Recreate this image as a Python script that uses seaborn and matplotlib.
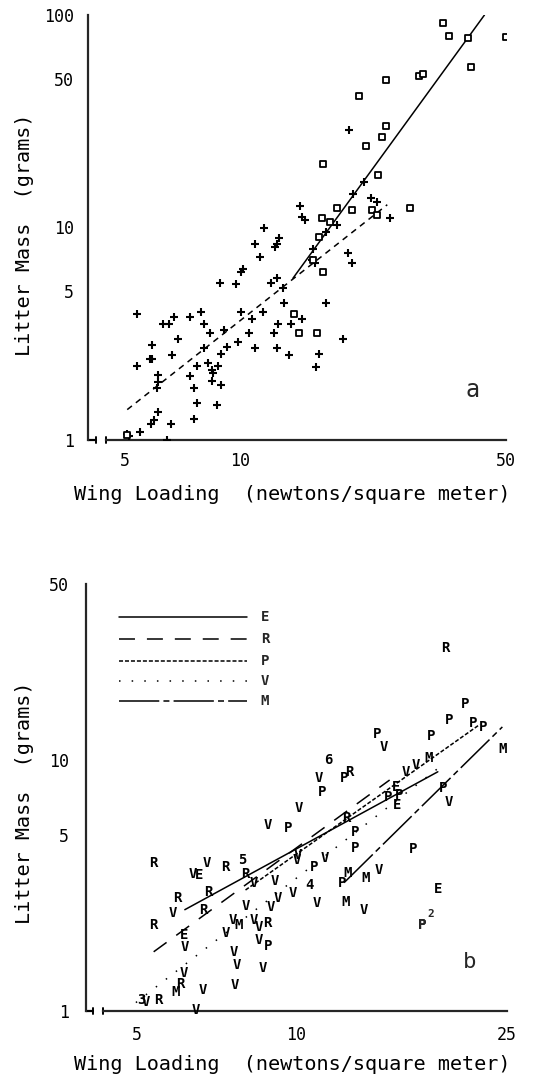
import numpy as np
import pandas as pd
import matplotlib
matplotlib.use("Agg")
import matplotlib.pyplot as plt
import seaborn as sns
from matplotlib.ticker import FixedLocator, FixedFormatter, NullLocator

# ---------------- data: panel a ----------------
plus_x = [8.86, 9.76, 10.1, 12.1, 12.5, 13.0, 13.1,
          5.39, 6.31, 6.54, 6.74, 7.39, 7.94, 8.04, 8.34, 6.87,
          10.1, 10.8, 11.5, 9.08, 10.6, 12.6, 13.6, 12.3,
          9.88, 9.24, 10.95, 12.5, 13.5,
          5.90, 5.90, 5.83, 5.39, 6.66, 8.04, 8.91, 7.71, 8.24, 8.44, 8.49, 8.80, 7.39,
          6.12, 6.12, 6.08, 8.44, 8.91, 7.57, 7.75, 8.70, 7.57, 6.12, 5.97, 5.87, 6.62, 5.49, 5.07, 5.13, 6.46,
          14.4, 14.6, 14.8, 11.6, 10.95, 11.3, 12.7, 12.5, 12.4, 10.2,
          16.9, 19.2, 19.7, 22.1, 22.9, 24.8, 21.2, 19.8,
          15.5, 15.75, 15.6, 14.6,
          19.4, 18.0, 16.9,
          15.9, 16.2, 18.7]
plus_y = [5.5, 5.4, 6.2, 5.5, 5.8, 5.2, 4.4,
          3.9, 3.5, 3.5, 3.8, 3.8, 4.0, 3.5, 3.2, 3.0,
          4.0, 3.7, 4.0, 3.3, 3.2, 3.5, 3.5, 3.2,
          2.9, 2.75, 2.7, 2.7, 2.5,
          2.8, 2.4, 2.4, 2.24, 2.5, 2.7, 2.55, 2.24, 2.3, 2.14, 2.07, 2.24, 2.0,
          2.03, 1.88, 1.76, 1.9, 1.82, 1.76, 1.50, 1.46, 1.26, 1.36, 1.24, 1.19, 1.19, 1.09, 1.07, 1.04, 1.0,
          12.6, 11.2, 10.8, 9.95, 8.4, 7.3, 8.9, 8.4, 8.1, 6.4,
          4.4, 7.6, 6.8, 13.8, 13.2, 11.1, 16.4, 14.4,
          7.0, 6.8, 7.9, 3.7,
          28.9, 10.3, 9.5,
          2.2, 2.55, 3.0]
o_x = [34.2, 35.5, 39.8, 50.0, 40.5, 29.6, 30.3, 24.2, 20.6, 24.2,
       23.6, 21.5, 16.5, 23.1, 18.0, 19.7, 22.3, 22.9, 28.0, 16.4,
       17.25, 16.5, 13.9, 14.3, 16.0, 16.2, 15.6, 5.07]
o_y = [91.6, 79.6, 77.9, 78.7, 56.8, 51.5, 52.6, 49.3, 41.4, 29.9,
       26.8, 24.3, 20.0, 17.7, 12.4, 12.1, 12.1, 11.5, 12.4, 11.1,
       10.6, 6.2, 3.9, 3.2, 3.2, 9.0, 7.0, 1.05]
fit_solid_x = [13.8, 43.9]
fit_solid_y = [5.77, 100.0]
fit_dash_x = [5.07, 24.4]
fit_dash_y = [1.39, 12.8]

# ---------------- data: panel b ----------------
E_x = [6.53, 15.4, 15.5, 18.5, 6.12]
E_y = [3.48, 7.80, 6.62, 3.05, 2.01]
R_x = [5.37, 7.34, 8.01, 6.82, 5.94, 6.68, 5.37, 8.81, 5.49, 6.04, 19.1, 12.6, 12.4]
R_y = [3.89, 3.75, 3.51, 2.98, 2.82, 2.53, 2.20, 2.24, 1.11, 1.28, 27.9, 8.95, 5.87]
P_x = [9.66, 20.8, 19.4, 21.6, 22.5, 18.0, 14.2, 12.3, 11.2, 14.9, 15.6, 18.9, 12.9, 12.9,
       16.6, 10.8, 12.2, 17.3, 8.85]
P_y = [5.36, 16.7, 14.4, 14.0, 13.5, 12.4, 12.6, 8.48, 7.46, 7.12, 7.26, 7.73, 5.17, 4.46,
       4.42, 3.75, 3.24, 2.20, 1.82]
V_x = [6.37, 6.76, 8.30, 5.83, 8.01, 8.93, 9.21, 9.83, 10.0, 8.81,
       7.57, 8.30, 8.48, 7.34, 8.48, 7.60, 7.70, 8.63, 7.64, 6.65,
       6.12, 5.19, 6.45, 6.15, 16.8, 16.1, 14.6, 11.0, 10.09, 19.4,
       11.3, 10.04, 14.3, 10.9, 13.4, 9.1]
V_y = [3.51, 3.89, 3.24, 2.46, 2.62, 2.60, 2.82, 2.95, 4.00, 5.51,
       2.30, 2.30, 2.16, 2.05, 1.92, 1.72, 1.52, 1.48, 1.27, 1.21,
       1.42, 1.09, 1.01, 1.80, 9.55, 8.95, 11.2, 8.48, 6.44, 6.80,
       4.07, 4.18, 3.65, 2.69, 2.53, 3.3]
M_x = [24.5, 17.8, 12.5, 13.5, 12.4, 7.78, 5.91]
M_y = [11.0, 10.2, 3.55, 3.39, 2.72, 2.20, 1.19]
count_labels = ['5', '6', '4', '3']
count_x = [7.91, 11.5, 10.6, 5.08]
count_y = [4.00, 10.0, 3.18, 1.11]
sup_label = '2'
sup_x = [17.3]
sup_y = [2.20]

families = ['E', 'R', 'P', 'V', 'M']
fam_x = {'E': E_x, 'R': R_x, 'P': P_x, 'V': V_x, 'M': M_x}
fam_y = {'E': E_y, 'R': R_y, 'P': P_y, 'V': V_y, 'M': M_y}
fit_x = {'E': [6.15, 18.5], 'R': [5.37, 15.0], 'P': [8.01, 22.2], 'V': [4.97, 18.9], 'M': [12.3, 24.5]}
fit_y = {'E': [2.53, 8.95], 'R': [1.72, 8.3], 'P': [3.03, 13.8], 'V': [1.08, 9.55], 'M': [3.24, 13.5]}

# ---------------- style ----------------
sns.set_theme(style="white")
plt.rcParams['font.family'] = ['DejaVu Sans Mono', 'DejaVu Sans']
plt.rcParams['lines.scale_dashes'] = False
plt.rcParams['axes.linewidth'] = 1.6

fam_ls = {'E': '-', 'R': (0, (11.5, 8.6)), 'P': (0, (2.9, 1.4)),
          'V': (0, (1.1, 8.0)), 'M': (0, (29, 3, 4.3, 3))}

fig = plt.figure(figsize=(5.33, 10.79), dpi=100)
W, H = 533.0, 1079.0
ax1 = fig.add_axes([88 / W, 1 - 440 / H, (506 - 88) / W, (440 - 15) / H])
ax2 = fig.add_axes([86 / W, 1 - 1011 / H, (507 - 86) / W, (1011 - 584) / H])

LW = 1.1

# ---- panel a ----
df_plus = pd.DataFrame({'x': plus_x, 'y': plus_y})
df_o = pd.DataFrame({'x': o_x, 'y': o_y})
sns.scatterplot(data=df_plus, x='x', y='y', marker='+', s=34, color='black',
                linewidth=1.5, ax=ax1, legend=False, zorder=3)
sns.scatterplot(data=df_o, x='x', y='y', marker='s', s=16, facecolor='white',
                edgecolor='black', linewidth=1.3, ax=ax1, legend=False, zorder=3)
sns.lineplot(x=fit_solid_x, y=fit_solid_y, color='black', linewidth=LW, ax=ax1, legend=False)
sns.lineplot(x=fit_dash_x, y=fit_dash_y, color='black', linewidth=LW,
             linestyle=(0, (4.3, 3.6)), ax=ax1, legend=False)

# ---- panel b ----
for fam in families:
    sns.lineplot(x=fit_x[fam], y=fit_y[fam], color='black', linewidth=LW,
                 linestyle=fam_ls[fam], ax=ax2, legend=False)
    for xv, yv in zip(fam_x[fam], fam_y[fam]):
        ax2.text(xv, yv, fam, ha='center', va='center', fontsize=10,
                 fontweight='bold', color='black', zorder=4)
for lab, xv, yv in zip(count_labels, count_x, count_y):
    ax2.text(xv, yv, lab, ha='center', va='center', fontsize=10,
             fontweight='bold', color='black', zorder=4)
for xv, yv in zip(sup_x, sup_y):
    ax2.text(xv, yv, 'P', ha='center', va='center', fontsize=10, fontweight='bold', zorder=4)
    ax2.annotate(sup_label, (xv, yv), xytext=(6, 8), textcoords='offset points',
                 ha='center', va='center', fontsize=8, fontweight='bold')

# legend (manual, lines then letters)
leg_y = [0.923, 0.871, 0.820, 0.773, 0.726]
for fam, yy in zip(families, leg_y):
    ax2.plot([0.078, 0.383], [yy, yy], transform=ax2.transAxes, color='black',
             linewidth=LW, linestyle=fam_ls[fam])
    ax2.text(0.425, yy, fam, transform=ax2.transAxes, ha='center', va='center',
             fontsize=10, fontweight='bold')

# ---- axes formatting ----
def fmt(ax, xlim, ylim, xt, yt, xpad, ypad, brk):
    ax.set_xscale('log')
    ax.set_yscale('log')
    ax.set_xlim(*xlim)
    ax.set_ylim(*ylim)
    ax.xaxis.set_major_locator(FixedLocator(xt))
    ax.xaxis.set_major_formatter(FixedFormatter([str(v) for v in xt]))
    ax.yaxis.set_major_locator(FixedLocator(yt))
    ax.yaxis.set_major_formatter(FixedFormatter([str(v) for v in yt]))
    ax.xaxis.set_minor_locator(NullLocator())
    ax.yaxis.set_minor_locator(NullLocator())
    for s in ('top', 'right'):
        ax.spines[s].set_visible(False)
    ax.tick_params(axis='both', which='major', direction='in', length=5, width=1.4,
                   labelsize=12, color='black', labelcolor='black')
    ax.tick_params(axis='x', pad=xpad)
    ax.tick_params(axis='y', pad=ypad)
    b1, b2, f = brk
    ax.spines['bottom'].set_bounds(b2, xlim[1])
    ax.plot([xlim[0], b1], [ylim[0], ylim[0]], color='black', lw=1.6, clip_on=False)
    for b in (b1, b2):
        ax.plot([b, b], [ylim[0] / f, ylim[0] * f], color='black', lw=1.4, clip_on=False)
    ax.grid(False)

fmt(ax1, (4, 50), (1, 100), [5, 10, 50], [1, 5, 10, 50, 100], 9, 10, (4.21, 4.47, 1.028))
fmt(ax2, (4, 25), (1, 50), [5, 10, 25], [1, 5, 10, 50], 11, 12, (4.12, 4.31, 1.028))

for ax, ylc, xly, xlx, yly in ((ax1, -0.129, -0.106, 0.488, 0.482),
                                (ax2, -0.124, -0.103, 0.489, 0.487)):
    ax.set_xlabel('Wing Loading  (newtons/square meter)', fontsize=14.5, color='black')
    ax.set_ylabel('Litter Mass  (grams)', fontsize=14.5, color='black')
    ax.xaxis.set_label_coords(xlx, xly)
    ax.yaxis.set_label_coords(ylc, yly)

ax1.text(0.919, 0.118, 'a', transform=ax1.transAxes, ha='center', va='center', fontsize=17)
ax2.text(0.910, 0.115, 'b', transform=ax2.transAxes, ha='center', va='center', fontsize=16)

fig.savefig('out.png', dpi=100, facecolor='white')
